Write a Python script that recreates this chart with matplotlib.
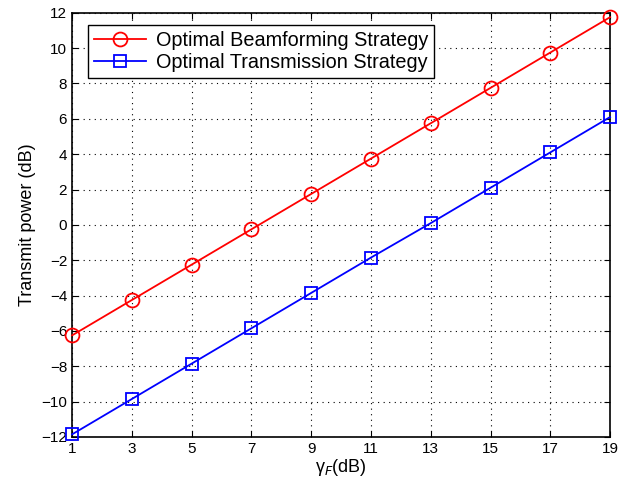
import matplotlib
matplotlib.use("Agg")
import matplotlib.pyplot as plt

gamma_f = [1, 3, 5, 7, 9, 11, 13, 15, 17, 19]
beamforming = [-6.25, -4.25, -2.25, -0.25, 1.75, 3.75, 5.75, 7.75, 9.75, 11.75]
transmission = [-11.85, -9.85, -7.85, -5.85, -3.85, -1.85, 0.1, 2.1, 4.1, 6.1]

plt.rcParams['font.family'] = ['Liberation Sans', 'DejaVu Sans']

fig = plt.figure(figsize=(6.27, 4.91), dpi=100)
ax = fig.add_axes([0.115, 0.110, 0.858, 0.864])

ax.plot(gamma_f, beamforming, color='#ff0000', marker='o', markersize=10,
        markerfacecolor='none', markeredgewidth=1.3, linewidth=1.3,
        label='Optimal Beamforming Strategy', clip_on=False, zorder=3)
ax.plot(gamma_f, transmission, color='#0000ff', marker='s', markersize=9,
        markerfacecolor='none', markeredgewidth=1.3, linewidth=1.3,
        label='Optimal Transmission Strategy', clip_on=False, zorder=3)

ax.set_xlim(1, 19)
ax.set_ylim(-12, 12)
ax.set_xticks(gamma_f)
ax.set_yticks(range(-12, 13, 2))
ax.set_yticklabels([str(v).replace('-', '\u2212') for v in range(-12, 13, 2)])
ax.tick_params(direction='in', labelsize=11, top=True, right=True, length=4)
ax.grid(True, linestyle=(0, (1, 4)), color='black', linewidth=0.8)
for s in ax.spines.values():
    s.set_linewidth(1.2)

ax.set_xlabel('\u03b3$_F$(dB)', fontsize=13, labelpad=1)
ax.set_ylabel('Transmit power (dB)', fontsize=13)

leg = ax.legend(loc='upper left', bbox_to_anchor=(0.03, 0.972), fontsize=14.3,
                fancybox=False, framealpha=1, edgecolor='black',
                handlelength=2.6, borderpad=0.3, labelspacing=0.15,
                handletextpad=0.5, borderaxespad=0)
leg.get_frame().set_linewidth(1.0)

fig.savefig('out.png', dpi=100)
